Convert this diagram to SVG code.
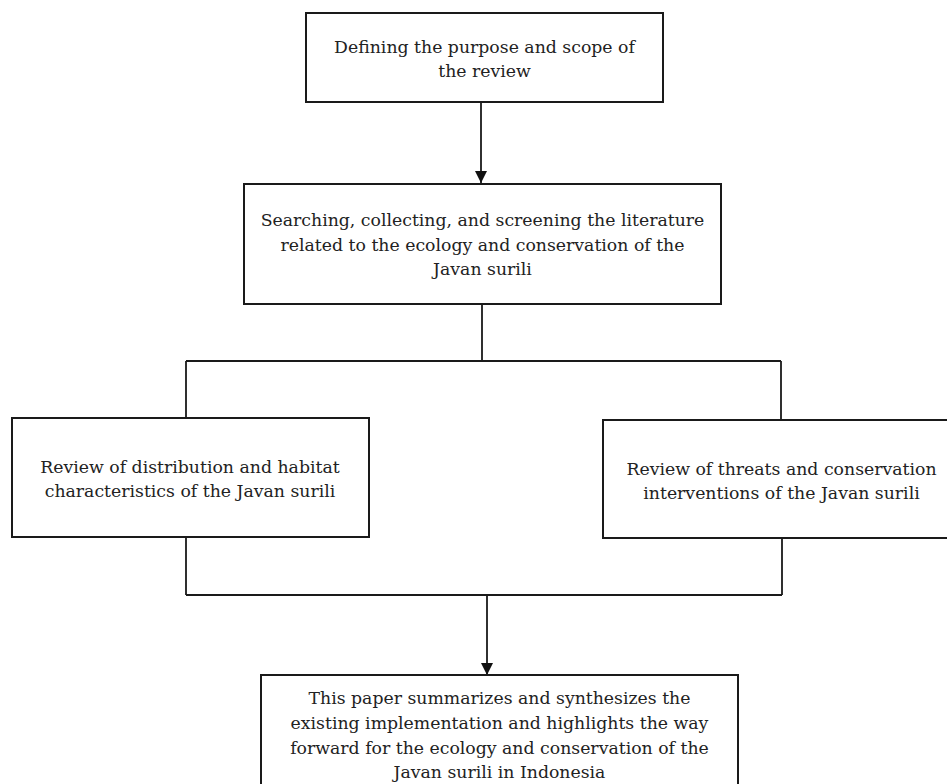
<svg xmlns="http://www.w3.org/2000/svg" width="947" height="784" viewBox="0 0 947 784">
<defs>
<style>
.box{fill:#fff;stroke:#1a1a1a;stroke-width:2}
.t{font-family:"DejaVu Serif","Liberation Serif",serif;font-size:17.3px;fill:#222;text-anchor:middle}
.c{fill:none;stroke:#1a1a1a;stroke-width:1.8}
</style>
<marker id="ah" viewBox="0 0 10 10" refX="10" refY="5" markerWidth="12" markerHeight="12" markerUnits="userSpaceOnUse" orient="auto">
<path d="M0,0 L10,5 L0,10 z" fill="#111"/>
</marker>
</defs>
<rect width="947" height="784" fill="#fff"/>
<g id="connectors">
<path class="c" d="M481,102 V183" marker-end="url(#ah)"/>
<path class="c" d="M482,304 V361 M186,361 H781 M186,361 V418 M781,361 V420"/>
<path class="c" d="M186,537 V595 M782,539 V595 M186,595 H782"/>
<path class="c" d="M487,595 V675" marker-end="url(#ah)"/>
</g>
<g id="n1">
<rect class="box" x="306" y="13" width="357" height="89"/>
<text class="t" x="484.5" y="53">Defining the purpose and scope of</text>
<text class="t" x="484.5" y="77">the review</text>
</g>
<g id="n2">
<rect class="box" x="244" y="184" width="477" height="120"/>
<text class="t" x="482.5" y="226">Searching, collecting, and screening the literature</text>
<text class="t" x="482.5" y="251">related to the ecology and conservation of the</text>
<text class="t" x="482.5" y="275">Javan surili</text>
</g>
<g id="n3">
<rect class="box" x="12" y="418" width="357" height="119"/>
<text class="t" x="190" y="473">Review of distribution and habitat</text>
<text class="t" x="190" y="497">characteristics of the Javan surili</text>
</g>
<g id="n4">
<rect class="box" x="603" y="420" width="360" height="118"/>
<text class="t" x="781.5" y="475">Review of threats and conservation</text>
<text class="t" x="781.5" y="499">interventions of the Javan surili</text>
</g>
<g id="n5">
<rect class="box" x="261" y="675" width="477" height="130"/>
<text class="t" x="499.5" y="704">This paper summarizes and synthesizes the</text>
<text class="t" x="499.5" y="729">existing implementation and highlights the way</text>
<text class="t" x="499.5" y="754">forward for the ecology and conservation of the</text>
<text class="t" x="499.5" y="778">Javan surili in Indonesia</text>
</g>
</svg>
